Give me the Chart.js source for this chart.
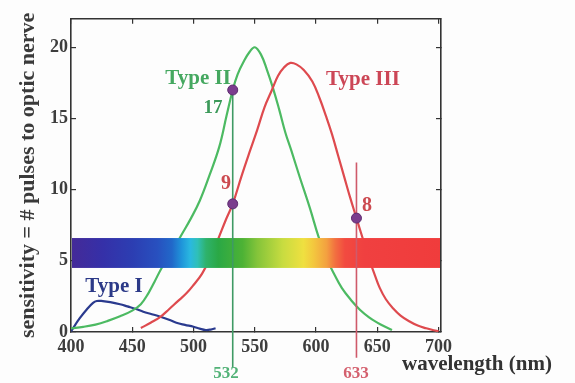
<!DOCTYPE html>
<html>
<head>
<meta charset="utf-8">
<script src="https://cdn.jsdelivr.net/npm/chart.js@4.4.0/dist/chart.umd.min.js"></script>
<style>
  html, body { margin: 0; padding: 0; background: #fdfdfd; }
</style>
</head>
<body>
<canvas id="myChart" width="575" height="383"></canvas>
<script>
// sensitivity curves (wavelength in nm, pulses)
const type1Nm = [400, 407, 413, 418, 421, 426, 432, 440, 446, 453, 459, 466, 473, 480, 486, 493, 500, 505, 510, 514, 518];
const type1Val = [0.05, 0.95, 1.6, 2.05, 2.18, 2.17, 2.1, 1.95, 1.8, 1.62, 1.42, 1.25, 1.07, 0.86, 0.65, 0.5, 0.37, 0.24, 0.14, 0.17, 0.26];

const type2Nm = [400, 410, 420, 430, 440, 450, 457, 463, 468, 474, 482, 490, 498, 505, 513, 521, 527, 532, 536, 541, 546, 550, 555, 560, 565, 570, 575, 580, 587, 595, 602, 608, 614, 621, 629, 636, 643, 650, 656, 662];
const type2Val = [0.26, 0.36, 0.52, 0.78, 1.1, 1.5, 1.95, 2.7, 3.5, 4.5, 5.6, 6.8, 8.0, 9.2, 11.0, 13.0, 15.2, 17.0, 18.1, 19.0, 19.7, 20.0, 19.5, 18.4, 17.1, 15.6, 14.0, 12.7, 10.8, 8.7, 6.7, 5.3, 4.2, 3.1, 2.2, 1.55, 1.05, 0.66, 0.38, 0.14];

const type3Nm = [457, 465, 473, 480, 487, 494, 500, 507, 514, 520, 526, 532, 539, 546, 552, 558, 564, 569, 574, 579, 584, 590, 597, 603, 608, 613, 618, 623, 628, 633, 638, 643, 648, 652, 657, 663, 669, 676, 683, 690, 696, 700];
const type3Val = [0.28, 0.65, 1.07, 1.6, 2.15, 2.7, 3.3, 4.1, 5.3, 6.5, 7.8, 9.0, 10.9, 12.7, 14.2, 15.8, 17.0, 18.0, 18.6, 18.9, 18.8, 18.4, 17.6, 16.4, 15.2, 13.9, 12.4, 10.9, 9.4, 8.0, 6.6, 5.2, 4.0, 3.1, 2.3, 1.65, 1.15, 0.75, 0.45, 0.26, 0.12, 0.05];

// laser lines and the readings on them
const markerNm = [532, 532, 633];
const markerVal = [17, 9, 8];
const laserNm = [532, 633];
const laserTop = [17, 11.9];
const laserBottom = [-2.5, -1.8];

// rainbow band
const bandBottom = 4.5;
const bandTop = 6.6;
const spectrumNm = [400, 425, 450, 470, 482, 490, 497, 503, 510, 520, 540, 552, 573, 590, 598, 609, 616, 624, 640, 702];
const spectrumColor = ['#442a98', '#3530a8', '#2c3eb2', '#2850bf', '#2168c9', '#1f95da', '#2ab8e0', '#2fc0b8', '#2eb26c', '#2aa845',
  '#4db235', '#84c43a', '#c8dc40', '#efe040', '#f3c83e', '#f3a040', '#f27040', '#f24a40', '#f04040', '#f03c3c'];

const xTicks = [400, 450, 500, 550, 600, 650, 700];
const yTicks = [0, 5, 10, 15, 20];

const serif = "'Liberation Serif', 'DejaVu Serif', serif";

const notes = [
  {text: 'Type II', nm: 503.7, val: 17.8, color: '#45a860', size: 21},
  {text: '17', nm: 515.9, val: 15.7, color: '#3c9a5a', size: 19},
  {text: 'Type III', nm: 638.3, val: 17.75, color: '#cc4656', size: 21},
  {text: '9', nm: 526.5, val: 10.4, color: '#cc4a50', size: 20},
  {text: '8', nm: 641.6, val: 8.85, color: '#cc4a50', size: 20},
  {text: 'Type I', nm: 435.1, val: 3.2, color: '#2c3a88', size: 21},
  {text: '532', nm: 526.5, val: -2.9, color: '#52b277', size: 17},
  {text: '633', nm: 632.6, val: -2.9, color: '#d4606e', size: 17}
];

function pts(xs, ys) {
  var out = [];
  for (var i = 0; i < xs.length; i++) out.push({x: xs[i], y: ys[i]});
  return out;
}

var laser532 = [{x: laserNm[0], y: laserTop[0]}, {x: laserNm[0], y: laserBottom[0]}];
var laser633 = [{x: laserNm[1], y: laserTop[1]}, {x: laserNm[1], y: laserBottom[1]}];

// band is drawn right after the curves, so lasers and dots sit on top of it
const spectrumBand = {
  id: 'spectrumBand',
  afterDatasetDraw(chart, args) {
    if (args.index !== 3) return;
    var xs = chart.scales.x, ys = chart.scales.y, ctx = chart.ctx;
    var x0 = xs.getPixelForValue(xs.min) + 1, x1 = xs.getPixelForValue(xs.max) - 1;
    var y0 = ys.getPixelForValue(bandTop), y1 = ys.getPixelForValue(bandBottom);
    var g = ctx.createLinearGradient(x0, 0, x1, 0);
    for (var i = 0; i < spectrumNm.length; i++) {
      g.addColorStop((spectrumNm[i] - xs.min) / (xs.max - xs.min), spectrumColor[i]);
    }
    ctx.save();
    ctx.fillStyle = g;
    ctx.fillRect(x0, y0, x1 - x0, y1 - y0);
    ctx.restore();
  }
};

const noteText = {
  id: 'noteText',
  afterDraw(chart) {
    var xs = chart.scales.x, ys = chart.scales.y, ctx = chart.ctx;
    ctx.save();
    ctx.textAlign = 'center';
    ctx.textBaseline = 'middle';
    notes.forEach(function(n) {
      ctx.font = 'bold ' + n.size + 'px ' + serif;
      ctx.fillStyle = n.color;
      ctx.fillText(n.text, xs.getPixelForValue(n.nm), ys.getPixelForValue(n.val));
    });
    // x axis title sits off to the right, under the 700 tick
    ctx.textAlign = 'left';
    ctx.textBaseline = 'alphabetic';
    ctx.font = 'bold 21px ' + serif;
    ctx.fillStyle = '#333';
    ctx.fillText('wavelength (nm)', xs.getPixelForValue(670.2), ys.getPixelForValue(-2.65));
    ctx.restore();
  }
};

function fixSize(w, h) {
  return function(scale) {
    if (w !== null) scale.width = w;
    if (h !== null) scale.height = h;
  };
}

const gridOpts = {drawOnChartArea: false, tickLength: -5, color: '#333', lineWidth: 1.2};
const borderOpts = {display: true, color: '#333', width: 1.6};

var ctx = document.getElementById('myChart').getContext('2d');
var myChart = new Chart(ctx, {
  type: 'line',
  data: {
    datasets: [
      {label: 'readings', data: pts(markerNm, markerVal), showLine: false, pointRadius: 5,
        pointBackgroundColor: '#7b3d8e', pointBorderColor: '#5e2c70', pointBorderWidth: 1},
      {label: '532', data: laser532, borderColor: '#3f9a64', borderWidth: 1.6, pointRadius: 0, clip: false},
      {label: '633', data: laser633, borderColor: '#cf5a6a', borderWidth: 1.6, pointRadius: 0, clip: false},
      {label: 'Type III', data: pts(type3Nm, type3Val), borderColor: '#de4a4e', borderWidth: 2.2,
        pointRadius: 0, tension: 0.4},
      {label: 'Type II', data: pts(type2Nm, type2Val), borderColor: '#4cba62', borderWidth: 2.2,
        pointRadius: 0, tension: 0.4},
      {label: 'Type I', data: pts(type1Nm, type1Val), borderColor: '#2a3a8e', borderWidth: 2.2,
        pointRadius: 0, tension: 0.4}
    ]
  },
  options: {
    responsive: false,
    animation: false,
    layout: {padding: {top: 16, right: 134, bottom: 0, left: 0}},
    plugins: {legend: {display: false}, tooltip: {enabled: false}},
    scales: {
      x: {
        type: 'linear', position: 'bottom', min: 400, max: 702,
        afterFit: fixSize(null, 51),
        afterBuildTicks: function(s) { s.ticks = xTicks.map(function(v) { return {value: v}; }); },
        grid: gridOpts, border: borderOpts,
        ticks: {padding: 10, color: '#3d3d3d', font: {family: serif, size: 18, weight: 'bold'}, maxRotation: 0}
      },
      xTop: {
        type: 'linear', position: 'top', min: 400, max: 702,
        afterFit: fixSize(null, 0),
        afterBuildTicks: function(s) { s.ticks = xTicks.map(function(v) { return {value: v}; }); },
        grid: gridOpts, border: borderOpts, ticks: {display: false}
      },
      y: {
        type: 'linear', position: 'left', min: 0, max: 22,
        afterFit: fixSize(71, null),
        afterBuildTicks: function(s) { s.ticks = yTicks.map(function(v) { return {value: v}; }); },
        grid: gridOpts, border: borderOpts,
        ticks: {padding: 8, color: '#3d3d3d', font: {family: serif, size: 18, weight: 'bold'}},
        title: {display: true, text: 'sensitivity = # pulses to optic nerve', color: '#3a3a3a',
          font: {family: serif, size: 22, weight: 'bold'}, padding: {top: 15, bottom: 0}}
      },
      yRight: {
        type: 'linear', position: 'right', min: 0, max: 22,
        afterFit: fixSize(0, null),
        afterBuildTicks: function(s) { s.ticks = yTicks.map(function(v) { return {value: v}; }); },
        grid: gridOpts, border: borderOpts, ticks: {display: false}
      }
    }
  },
  plugins: [spectrumBand, noteText]
});
</script>
</body>
</html>
